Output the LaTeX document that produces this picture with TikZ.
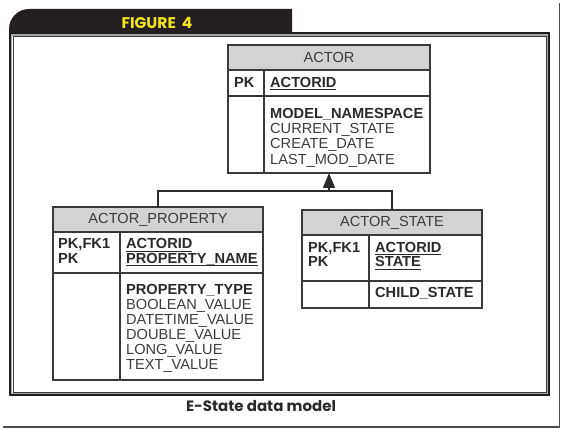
\documentclass[tikz,border=0pt]{standalone}
\usepackage{fontspec}
\setmainfont{Liberation Sans}
\newfontfamily\capfont{Poppins}
\usetikzlibrary{arrows.meta}
\definecolor{ink}{HTML}{2A2A2A}
\definecolor{inkl}{HTML}{3C3C3C}
\definecolor{hdr}{HTML}{D3D3D3}
\definecolor{frm}{HTML}{3A3A3A}
\definecolor{tabc}{HTML}{231F20}
\definecolor{figyel}{HTML}{F2E41A}
\newcommand\ulin[1]{\setbox0\hbox{#1}\rlap{\rule[-2.6pt]{\wd0}{0.9pt}}\box0}
\begin{document}
\begin{tikzpicture}[x=1pt,y=-1pt,
  tbl/.style={draw=frm, line width=1.2pt, rectangle, inner sep=0pt, outer sep=0pt, anchor=north west},
  rul/.style={draw=frm, line width=1.2pt},
  body/.style={anchor=base west, inner sep=0pt, text=inkl, font=\fontsize{14.6}{15}\selectfont},
  bodyb/.style={body, text=ink, font=\fontsize{14.6}{15}\selectfont\bfseries},
  hdrtxt/.style={anchor=base, inner sep=0pt, text=inkl, font=\fontsize{14.6}{15}\selectfont},
  conn/.style={draw=ink, line width=1.5pt}]
\useasboundingbox (0,0) rectangle (562,430);
% shadow lines
\draw[draw=frm!90, line width=1.6pt] (3,427) -- (559.5,427) -- (559.5,3);
% black tab
\fill[tabc] (9,35) -- (9,29) arc[start angle=180,end angle=270,radius=20] -- (292,9) -- (292,35) -- cycle;
% double frame
\draw[draw=gray!70, line width=1.4pt] (11.7,35.1) rectangle (547.7,393.6);
\draw[draw=tabc, line width=2pt] (10,33.5) rectangle (549.3,395.2);
\draw[draw=frm, line width=1pt] (13.3,36.6) rectangle (546.3,392.2);
\node[text=figyel, font=\capfont\bfseries\fontsize{15.5}{15}\selectfont, anchor=base, inner sep=0pt] (figlabel) at (157,28.3) {FIGURE\hspace{6pt}4};
% ACTOR
\fill[hdr] (228,45) rectangle (430,70);
\node[tbl, minimum width=202pt, minimum height=128pt] (actor) at (228,45) {};
\draw[rul] (228,70) -- (430,70);
\draw[rul] (228,96) -- (430,96);
\draw[rul] (264,70) -- (264,173);
\node[hdrtxt] (actorh) at (329,62.7) {ACTOR};
\node[bodyb] (a1) at (234,87.7) {PK};
\node[bodyb] (a2) at (270,87.7) {\ulin{ACTORID}};
\node[bodyb] (a3) at (270,118.3) {MODEL\_NAMESPACE};
\node[body] (a4) at (270,133.5) {CURRENT\_STATE};
\node[body] (a5) at (270,148.8) {CREATE\_DATE};
\node[body] (a6) at (270,164.1) {LAST\_MOD\_DATE};
% ACTOR_PROPERTY
\fill[hdr] (53,207) rectangle (263,232);
\node[tbl, minimum width=210pt, minimum height=173pt] (prop) at (53,207) {};
\draw[rul] (53,232) -- (263,232);
\draw[rul] (53,273) -- (263,273);
\draw[rul] (120,232) -- (120,380);
\node[hdrtxt] (proph) at (158,223.3) {ACTOR\_PROPERTY};
\node[bodyb] (p1) at (58,249) {PK,FK1};
\node[bodyb] (p2) at (58,263.6) {PK};
\node[bodyb] (p3) at (126,249) {\ulin{ACTORID}};
\node[bodyb] (p4) at (126,263.6) {\ulin{PROPERTY\_NAME}};
\node[bodyb] (p5) at (126,294.3) {PROPERTY\_TYPE};
\node[body] (p6) at (126,309.3) {BOOLEAN\_VALUE};
\node[body] (p7) at (126,324.3) {DATETIME\_VALUE};
\node[body] (p8) at (126,339.3) {DOUBLE\_VALUE};
\node[body] (p9) at (126,354.3) {LONG\_VALUE};
\node[body] (p10) at (126,369.3) {TEXT\_VALUE};
% ACTOR_STATE
\fill[hdr] (302,210) rectangle (482,235);
\node[tbl, minimum width=180pt, minimum height=98pt] (state) at (302,210) {};
\draw[rul] (302,235) -- (482,235);
\draw[rul] (302,281) -- (482,281);
\draw[rul] (369,235) -- (369,308);
\node[hdrtxt] (stateh) at (392,226.7) {ACTOR\_STATE};
\node[bodyb] (s1) at (308,252.7) {PK,FK1};
\node[bodyb] (s2) at (308,267) {PK};
\node[bodyb] (s3) at (375,252.7) {\ulin{ACTORID}};
\node[bodyb] (s4) at (375,267) {\ulin{STATE}};
\node[bodyb] (s5) at (375,297.7) {CHILD\_STATE};
% connectors
\coordinate (j) at (329,191);
\draw[conn] (prop.north) |- (j) -| (state.north);
\draw[conn, -{Triangle[width=12pt,length=15pt]}] (j) -- (actor.south);
% caption
\node[font=\capfont\bfseries\fontsize{15}{15}\selectfont, text=ink, anchor=base, inner sep=0pt] (caption) at (261,411.7) {E-State data model};
\end{tikzpicture}
\end{document}
